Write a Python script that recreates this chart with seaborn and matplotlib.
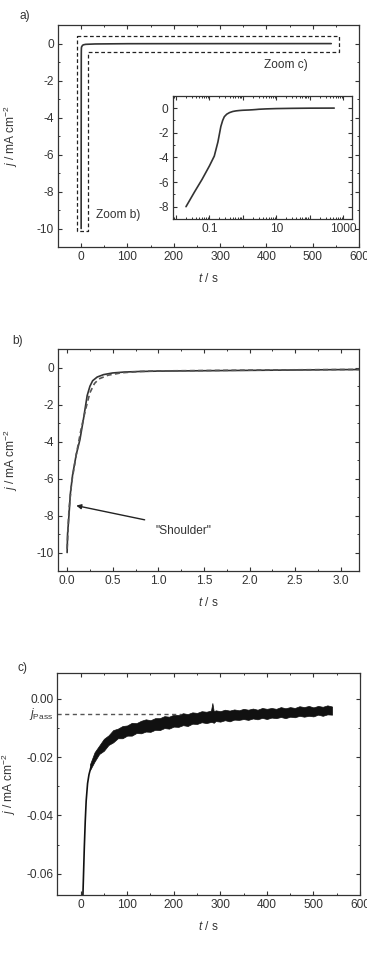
import numpy as np
import pandas as pd
import matplotlib
matplotlib.use("Agg")
import matplotlib.pyplot as plt
import seaborn as sns
from matplotlib.ticker import MultipleLocator, FormatStrFormatter, LogLocator, NullFormatter
from matplotlib.patches import Polygon

# ---------------- data ----------------
# full current transient (measured), used in a) main, a) inset and b)
t_meas = [0.0, 0.005, 0.02, 0.036, 0.06, 0.1, 0.14, 0.18, 0.22, 0.25, 0.28, 0.33, 0.4, 0.5,
          0.63, 0.8, 1.0, 1.5, 2.0, 2.5, 3.0, 5.0, 10.0, 30.0, 100.0, 300.0, 540.0]
j_meas = [-10.0, -9.0, -8.0, -6.8, -5.8, -4.7, -3.9, -2.75, -1.5, -1.0, -0.7, -0.5, -0.37, -0.28,
          -0.23, -0.2, -0.18, -0.16, -0.14, -0.12, -0.1, -0.07, -0.045, -0.025, -0.011, -0.007, -0.005]

# fit (dashed) in b)
t_fit = [0.0, 0.02, 0.05, 0.1, 0.15, 0.2, 0.25, 0.3, 0.35, 0.45, 0.6, 0.8, 1.0, 1.5, 2.0, 2.5, 3.2]
j_fit = [-9.8, -7.7, -6.2, -4.7, -3.4, -2.3, -1.35, -0.85, -0.6, -0.4, -0.27, -0.2, -0.17,
         -0.15, -0.13, -0.11, -0.09]

# c) initial steep decay
t_c_rise = [4.5, 6, 8, 10, 12, 15, 18, 22]
j_c_rise = [-0.070, -0.062, -0.051, -0.042, -0.035, -0.029, -0.026, -0.0235]
# c) noisy band envelope (upper / lower edge of the noise)
t_c_env = [20, 30, 40, 50, 60, 70, 80, 90, 100, 110, 120, 130, 140, 150, 160, 170, 180, 190,
           200, 210, 220, 230, 240, 250, 260, 270, 280, 283, 286, 290, 300, 310, 320, 330,
           340, 350, 360, 370, 380, 390, 400, 410, 420, 430, 440, 450, 460, 470, 480, 490,
           500, 510, 520, 530, 540]
j_c_up = [-0.0225, -0.0183, -0.0160, -0.0137, -0.0125, -0.0107, -0.0102, -0.0093, -0.0091,
          -0.0082, -0.0083, -0.0075, -0.0070, -0.0073, -0.0066, -0.0066, -0.0059, -0.0061,
          -0.0054, -0.0055, -0.0049, -0.0052, -0.0046, -0.0048, -0.0042, -0.0044, -0.0040,
          -0.0014, -0.0043, -0.0039, -0.0042, -0.0037, -0.0040, -0.0036, -0.0039, -0.0034,
          -0.0037, -0.0033, -0.0037, -0.0031, -0.0034, -0.0031, -0.0034, -0.0028, -0.0032,
          -0.0028, -0.0031, -0.0025, -0.0028, -0.0024, -0.0029, -0.0024, -0.0027, -0.0022, -0.0026]
j_c_lo = [-0.0245, -0.0215, -0.0189, -0.0178, -0.0158, -0.0149, -0.0135, -0.0135, -0.0126,
          -0.0126, -0.0117, -0.0118, -0.0112, -0.0113, -0.0106, -0.0107, -0.0100, -0.0102,
          -0.0095, -0.0096, -0.0090, -0.0093, -0.0085, -0.0086, -0.0080, -0.0083, -0.0079,
          -0.0080, -0.0082, -0.0076, -0.0078, -0.0073, -0.0077, -0.0071, -0.0072, -0.0069,
          -0.0072, -0.0067, -0.0070, -0.0065, -0.0069, -0.0064, -0.0066, -0.0062, -0.0066,
          -0.0061, -0.0063, -0.0058, -0.0061, -0.0058, -0.0060, -0.0054, -0.0058, -0.0053, -0.0054]
j_pass = -0.005

# ---------------- style ----------------
FS = 8.6
sns.set_style("ticks")
plt.rcParams.update({
    "font.family": ["Liberation Sans", "DejaVu Sans"],
    "font.size": FS,
    "axes.unicode_minus": False,
    "axes.edgecolor": "#333333",
    "axes.linewidth": 0.9,
    "xtick.color": "#333333",
    "ytick.color": "#333333",
    "text.color": "#333333",
    "axes.labelcolor": "#333333",
    "axes.labelsize": FS,
    "xtick.direction": "in",
    "ytick.direction": "in",
    "xtick.top": True,
    "ytick.right": True,
    "xtick.major.size": 3,
    "ytick.major.size": 3,
    "xtick.minor.size": 1.6,
    "ytick.minor.size": 1.6,
    "xtick.major.width": 0.8,
    "ytick.major.width": 0.8,
    "xtick.minor.width": 0.7,
    "ytick.minor.width": 0.7,
    "xtick.labelsize": FS,
    "ytick.labelsize": FS,
    "mathtext.fontset": "custom",
    "mathtext.rm": "Liberation Sans",
    "mathtext.it": "Liberation Sans:italic",
})

W, H = 367, 956
fig = plt.figure(figsize=(W / 100, H / 100), dpi=100)

def add_ax(l, r, t, b):
    return fig.add_axes([l / W, 1 - b / H, (r - l) / W, (b - t) / H])

line_col = "#333333"
ylab = r"$j$ / mA cm$^{-2}$"
xlab = r"$t$ / s"

def style(ax):
    ax.tick_params(which="both", top=True, right=True, direction="in", pad=3)
    ax.set_facecolor("white")

# ---------------- a) ----------------
axa = add_ax(58, 359, 25, 247)
style(axa)
df_meas = pd.DataFrame({"t": t_meas, "j": j_meas})
sns.lineplot(data=df_meas, x="t", y="j", ax=axa, color=line_col, lw=1.2, sort=False)
axa.set_xlim(-50, 600)
axa.set_ylim(-11, 1)
axa.xaxis.set_major_locator(MultipleLocator(100))
axa.xaxis.set_minor_locator(MultipleLocator(50))
axa.yaxis.set_major_locator(MultipleLocator(2))
axa.yaxis.set_minor_locator(MultipleLocator(1))
axa.set_xlabel(xlab, labelpad=6)
axa.set_ylabel(ylab)
axa.yaxis.set_label_coords(-0.126, 0.5)
box_pts = [(-10, 0.38), (557, 0.38), (557, -0.45), (15, -0.45), (15, -10.16), (-10, -10.16)]
axa.add_patch(Polygon(box_pts, closed=True, fill=False, ls=(0, (3, 2)), lw=0.9,
                      ec="#222222", joinstyle="round"))
axa.text(395, -1.15, "Zoom c)", ha="left", va="center")
axa.text(33, -9.26, "Zoom b)", ha="left", va="center")

# inset
axi = add_ax(172.7, 351.7, 95.7, 219)
style(axi)
df_log = df_meas[df_meas["t"] > 0.015]
sns.lineplot(data=df_log, x="t", y="j", ax=axi, color=line_col, lw=1.2, sort=False)
axi.set_xscale("log")
axi.set_xlim(0.008, 1800)
axi.set_ylim(-9, 1)
axi.set_xticks([0.01, 0.1, 1, 10, 100, 1000])
axi.set_xticklabels(["", "0.1", "", "10", "", "1000"])
axi.xaxis.set_minor_locator(LogLocator(base=10, subs=np.arange(2, 10), numticks=20))
axi.xaxis.set_minor_formatter(NullFormatter())
axi.yaxis.set_major_locator(MultipleLocator(2))
axi.yaxis.set_minor_locator(MultipleLocator(1))
axi.set_xlabel("")
axi.set_ylabel("")

# ---------------- b) ----------------
axb = add_ax(58, 359, 349.3, 571)
style(axb)
sns.lineplot(data=df_meas, x="t", y="j", ax=axb, color=line_col, lw=1.2, sort=False)
df_fit = pd.DataFrame({"t": t_fit, "j": j_fit})
sns.lineplot(data=df_fit, x="t", y="j", ax=axb, color="#555555", lw=1.2,
             linestyle=(0, (3, 2)), sort=False)
axb.set_xlim(-0.1, 3.2)
axb.set_ylim(-11, 1)
axb.xaxis.set_major_locator(MultipleLocator(0.5))
axb.xaxis.set_minor_locator(MultipleLocator(0.25))
axb.xaxis.set_major_formatter(FormatStrFormatter("%.1f"))
axb.yaxis.set_major_locator(MultipleLocator(2))
axb.yaxis.set_minor_locator(MultipleLocator(1))
axb.set_xlabel(xlab, labelpad=6)
axb.set_ylabel(ylab)
axb.yaxis.set_label_coords(-0.126, 0.5)
axb.annotate("", xy=(0.1, -7.46), xytext=(0.85, -8.23),
             arrowprops=dict(arrowstyle="-|>", color="#222222", lw=1.0,
                             mutation_scale=7, shrinkA=0, shrinkB=0))
axb.text(1.28, -8.83, '"Shoulder"', ha="center", va="center")

# ---------------- c) ----------------
axc = add_ax(57.3, 360, 673.3, 895)
style(axc)
df_rise = pd.DataFrame({"t": t_c_rise, "j": j_c_rise})
sns.lineplot(data=df_rise, x="t", y="j", ax=axc, color="#111111", lw=1.2, sort=False)
axc.fill_between(t_c_env, j_c_lo, j_c_up, color="#111111", lw=0.5, edgecolor="#111111")
axc.plot([-50, 215], [j_pass, j_pass], ls=(0, (3, 2.5)), color="#555555", lw=1.0)
axc.set_xlim(-50, 600)
axc.set_ylim(-0.0673, 0.0088)
axc.xaxis.set_major_locator(MultipleLocator(100))
axc.xaxis.set_minor_locator(MultipleLocator(50))
axc.yaxis.set_major_locator(MultipleLocator(0.02))
axc.yaxis.set_minor_locator(MultipleLocator(0.01))
axc.yaxis.set_major_formatter(FormatStrFormatter("%.2f"))
axc.set_xlabel(xlab, labelpad=6)
axc.set_ylabel(ylab)
axc.yaxis.set_label_coords(-0.131, 0.5)
axc.text(-0.015, j_pass, r"$j_{\rm Pass}$", transform=axc.get_yaxis_transform(),
         ha="right", va="center")

# panel letters
fig.text(25 / W, 1 - 16 / H, "a)", ha="center", va="center")
fig.text(18 / W, 1 - 341 / H, "b)", ha="center", va="center")
fig.text(23 / W, 1 - 668 / H, "c)", ha="center", va="center")

fig.savefig("out.png", dpi=100, facecolor="white")
